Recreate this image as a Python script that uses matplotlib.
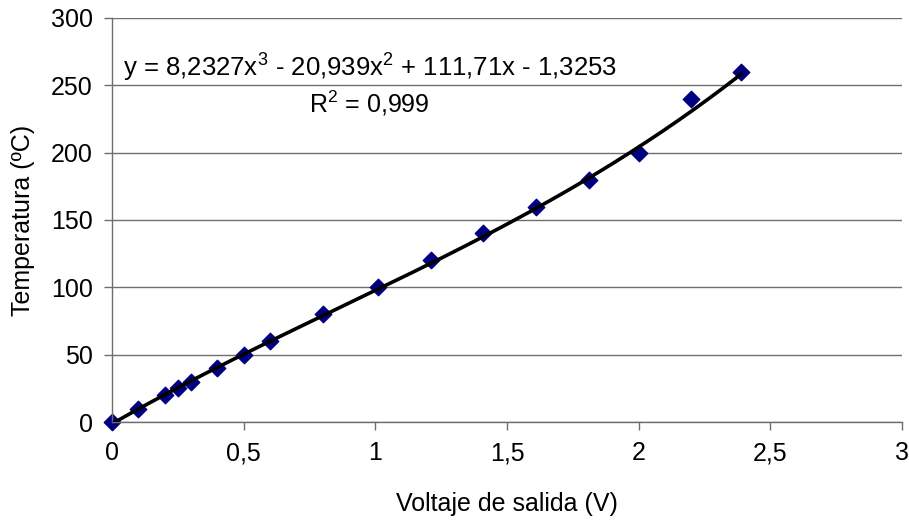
import numpy as np
import matplotlib
matplotlib.use("Agg")
import matplotlib.pyplot as plt

plt.rcParams['font.family'] = ['Liberation Sans', 'DejaVu Sans']
plt.rcParams['mathtext.fontset'] = 'custom'
plt.rcParams['mathtext.rm'] = 'Liberation Sans'

# Data
voltaje = [0, 0.1, 0.2, 0.25, 0.3, 0.4, 0.5, 0.6, 0.8, 1.01, 1.21, 1.41, 1.61, 1.81, 2.0, 2.2, 2.39]
temperatura = [0, 10, 20, 25, 30, 40, 50, 60, 80, 100, 120, 140, 160, 180, 200, 240, 260]

# Cubic trendline coefficients (from the chart label)
coef = [8.2327, -20.939, 111.71, -1.3253]

x_ticks = [0, 0.5, 1, 1.5, 2, 2.5, 3]
x_tick_labels = ["0", "0,5", "1", "1,5", "2", "2,5", "3"]
y_ticks = [0, 50, 100, 150, 200, 250, 300]

fig = plt.figure(figsize=(9.09, 5.23), dpi=100)
ax = fig.add_axes([0.1232, 0.1931, 0.8691, 0.7725])

#Trendline
xs = np.linspace(min(voltaje), max(voltaje), 200)
ax.plot(xs, np.polyval(coef, xs), color="black", linewidth=2.6, zorder=3)

#Data points
ax.scatter(voltaje, temperatura, marker="D", s=70, color="#000080", zorder=2, clip_on=False)

ax.set_xlim(0, 3)
ax.set_ylim(0, 300)
ax.set_xticks(x_ticks)
ax.set_xticklabels(x_tick_labels)
ax.set_yticks(y_ticks)

ax.yaxis.grid(True, color="#6e6e6e", linewidth=1)
ax.set_axisbelow(True)
for s in ["top", "right"]:
    ax.spines[s].set_visible(False)
for s in ["left", "bottom"]:
    ax.spines[s].set_color("#6e6e6e")
    ax.spines[s].set_linewidth(1)
ax.tick_params(colors="#6e6e6e", labelcolor="black", labelsize=18, length=6, width=1)
ax.tick_params(axis="x", pad=8)
ax.tick_params(axis="y", pad=8)

ax.set_xlabel("Voltaje de salida (V)", fontsize=18, labelpad=19)
ax.set_ylabel("Temperatura (ºC)", fontsize=18, labelpad=11)

#Equation label
ax.text(0.04, 264, "y = 8,2327x$^3$ - 20,939x$^2$ + 111,71x - 1,3253", fontsize=18.5, va="center")
ax.text(0.75, 237, "R$^2$ = 0,999", fontsize=18, va="center")

plt.savefig("out.png", dpi=100)
